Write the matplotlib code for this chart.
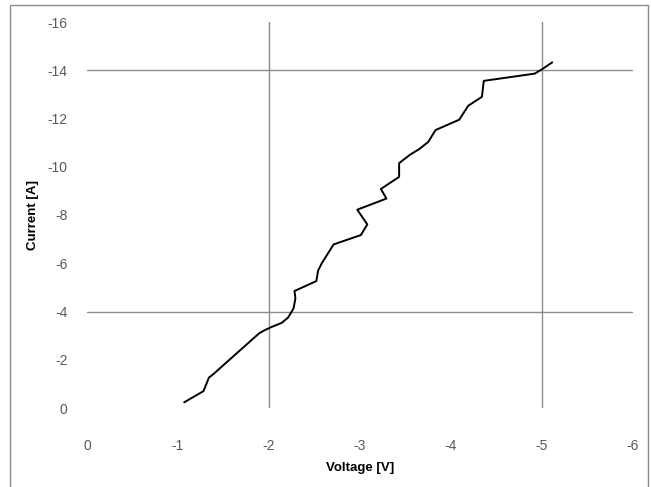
"""Voltage-current curve, recreated from a spreadsheet chart"""
import matplotlib
matplotlib.use('Agg')
import matplotlib.pyplot as plt
from matplotlib.patches import Rectangle

voltage = [-1.07, -1.28, -1.34, -1.39, -1.89, -1.94, -2.01, -2.14, -2.21, -2.27,
           -2.29, -2.28, -2.52, -2.54, -2.58, -2.71, -3.01, -3.08, -2.97, -3.29,
           -3.23, -3.43, -3.43, -3.55, -3.65, -3.75, -3.83, -4.09, -4.19, -4.34,
           -4.36, -4.92, -5.00, -5.11]
current = [-0.24, -0.70, -1.26, -1.41, -3.09, -3.20, -3.33, -3.53, -3.75, -4.13,
           -4.54, -4.85, -5.26, -5.70, -6.00, -6.78, -7.17, -7.61, -8.22, -8.68,
           -9.08, -9.58, -10.15, -10.50, -10.73, -11.03, -11.52, -11.95, -12.53, -12.90,
           -13.56, -13.86, -14.04, -14.32]

# Reference lines drawn across the plot
vlines = [-2, -5]
hlines = [-4, -14]

x_ticks = [0, -1, -2, -3, -4, -5, -6]
y_ticks = [0, -2, -4, -6, -8, -10, -12, -14, -16]

plt.rcParams['font.family'] = ['Liberation Sans', 'DejaVu Sans']

fig = plt.figure(figsize=(6.51, 4.87), dpi=100)
fig.patches.append(Rectangle((10 / 651, -0.02), 638 / 651, 1.0097, transform=fig.transFigure,
                             fill=False, edgecolor='#8c8c8c', linewidth=1.0))

ax = fig.add_axes([87 / 651, 79 / 487, 546 / 651, 386 / 487])

for v in vlines:
    ax.axvline(v, color='#8c8c8c', linewidth=1.0, zorder=1)
for h in hlines:
    ax.axhline(h, color='#8c8c8c', linewidth=1.0, zorder=1)

ax.plot(voltage, current, color='black', linewidth=1.4, zorder=3)

ax.set_xlim(0, -6)
ax.set_ylim(0, -16)
ax.set_xticks(x_ticks)
ax.set_yticks(y_ticks)
ax.set_xticklabels([str(t) for t in x_ticks])
ax.set_yticklabels([str(t) for t in y_ticks])
ax.tick_params(length=0, labelsize=10, labelcolor='#595959')
ax.tick_params(axis='x', pad=22)
ax.tick_params(axis='y', pad=14)
for s in ax.spines.values():
    s.set_visible(False)

ax.set_xlabel('Voltage [V]', fontsize=9.5, fontweight='bold', labelpad=7)
ax.set_ylabel('Current [A]', fontsize=9.5, fontweight='bold', labelpad=6)

plt.savefig('out.png', dpi=100)
plt.close()
